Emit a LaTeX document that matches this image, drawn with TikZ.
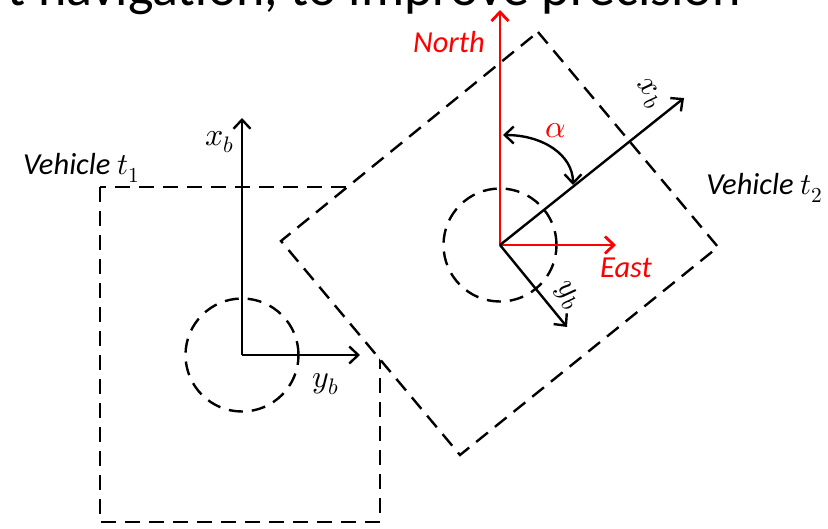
\documentclass[tikz,border=0pt]{standalone}
\usepackage{fontspec}
\usepackage{unicode-math}
\setmainfont{Carlito}
\setmathfont{Latin Modern Math}
\usetikzlibrary{arrows.meta}
\begin{document}
\begin{tikzpicture}[x=1pt,y=-1pt,
  axis/.style={line width=2.4pt,-{Straight Barb[length=9pt,width=17pt]}},
  redaxis/.style={axis,red,line width=2.8pt},
  frame/.style={line width=2.4pt,dash pattern=on 15pt off 9pt},
  wheel/.style={circle,draw,line width=2.4pt,dash pattern=on 14pt off 9pt,minimum size=113pt,inner sep=0pt},
  lbl/.style={font=\fontsize{30.5}{34}\selectfont\itshape,inner sep=0pt},
  mlbl/.style={font=\fontsize{32}{36}\selectfont,inner sep=0pt}]
\useasboundingbox (0,0) rectangle (828,528);
\begin{scope}
\clip (0,0) rectangle (828,528);
\node[anchor=base east,inner sep=0pt,font=\fontsize{54}{60}\selectfont] (title) at (741,5) {t navigation, to improve precision};
\end{scope}
% vehicle 1
\coordinate (c1) at (242,355);
\coordinate (sq1) at (100,187);
\coordinate (sq2) at (380,522);
\draw[frame] (sq1) rectangle (sq2);
% vehicle 2 frame (opaque)
\coordinate (rt) at (538,32);
\coordinate (rr) at (718,247);
\coordinate (rb) at (460,455);
\coordinate (rl) at (281,241);
\filldraw[frame,fill=white] (rt) -- (rr) -- (rb) -- (rl) -- cycle;
% vehicle 1 wheel and axes
\node[wheel] (w1) at (c1) {};
\coordinate (x1) at (242,118);
\coordinate (y1) at (360,355);
\draw[axis] (c1) -- (x1);
\draw[axis] (c1) -- (y1);
\node[mlbl] (x1l) at (220,142) {$x_b$};
\node[mlbl] (y1l) at (326,384) {$y_b$};
\node[lbl,anchor=west] (v1) at (23,168) {Vehicle $t_1$};
% vehicle 2
\coordinate (c2) at (500,245);
\node[wheel] (w2) at (c2) {};
\coordinate (north) at (500,10);
\coordinate (east) at (616,245);
\draw[redaxis] (c2) -- (north);
\draw[redaxis] (c2) -- (east);
\coordinate (x2) at (684,98);
\coordinate (y2) at (567,327);
\draw[axis] (c2) -- (x2);
\draw[axis] (c2) -- (y2);
\node[mlbl,rotate=-51] (x2l) at (648,94) {$x_b$};
\node[mlbl,rotate=-51] (y2l) at (567,296) {$y_b$};
\node[lbl,red,anchor=east] (nl) at (485,42) {North};
\node[lbl,red,anchor=west] (el) at (600,268) {East};
\node[lbl,anchor=east] (v2) at (823,188) {Vehicle $t_2$};
% angle
\coordinate (a1) at (503,135);
\coordinate (a2) at (573,185);
\draw[line width=2.4pt,{Straight Barb[length=9pt,width=17pt]}-{Straight Barb[length=9pt,width=17pt]}] (a1) .. controls (543,135) and (573,155) .. (a2);
\node[mlbl,red] (al) at (556,131) {$\alpha$};
\end{tikzpicture}
\end{document}
